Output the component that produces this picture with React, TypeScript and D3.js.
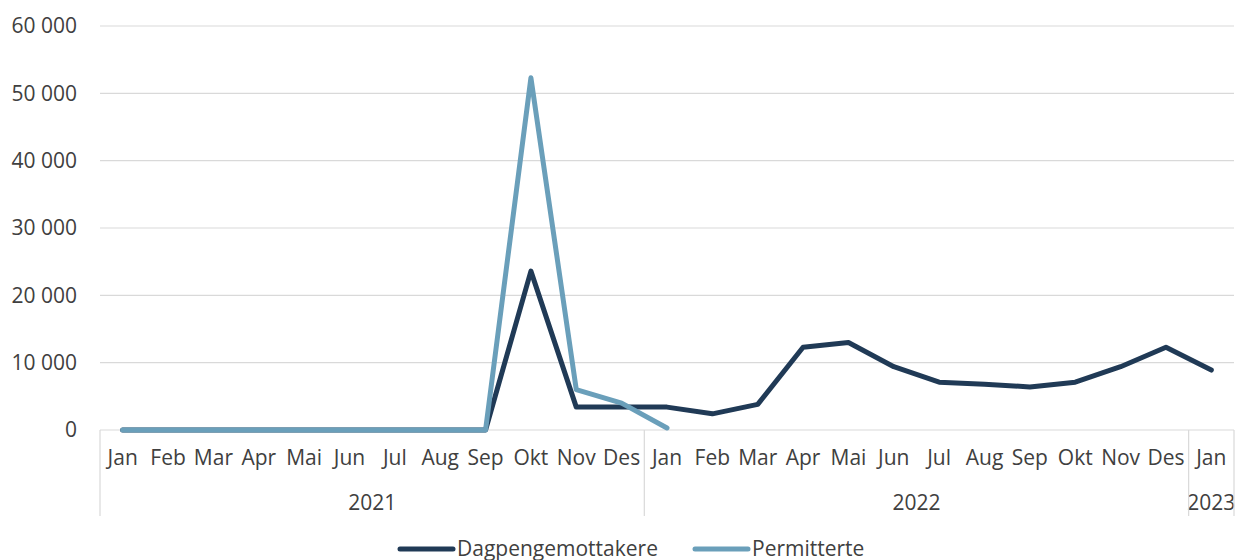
import * as d3 from "d3";
import { useEffect, useRef } from "react";

const months = [
  "Jan", "Feb", "Mar", "Apr", "Mai", "Jun", "Jul", "Aug", "Sep", "Okt", "Nov", "Des",
  "Jan", "Feb", "Mar", "Apr", "Mai", "Jun", "Jul", "Aug", "Sep", "Okt", "Nov", "Des",
  "Jan",
];
const years = [
  { label: "2021", count: 12 },
  { label: "2022", count: 12 },
  { label: "2023", count: 1 },
];
const dagpenge = [
  0, 0, 0, 0, 0, 0, 0, 0, 0, 23600, 3400, 3400,
  3400, 2400, 3800, 12300, 13000, 9400, 7100, 6800, 6400, 7100, 9400, 12300,
  8900,
];
const permitterte = [0, 0, 0, 0, 0, 0, 0, 0, 0, 52300, 6000, 4000, 300];
const yTicks = [0, 10000, 20000, 30000, 40000, 50000, 60000];

const series = [
  { name: "Dagpengemottakere", values: dagpenge, color: "#203a56" },
  { name: "Permitterte", values: permitterte, color: "#6a9fba" },
];

export default function App() {
  const ref = useRef<SVGSVGElement>(null);

  useEffect(() => {
    if (!ref.current) return;
    document.body.style.margin = "0";
    const el = ref.current;
    d3.select(el).selectAll("*").remove();

    const W = 1235;
    const H = 560;
    const left = 100;
    const right = 1234;
    const top = 26;
    const bottom = 430;
    const axisBottom = 516;
    const font = "'Open Sans', sans-serif";
    const fontSize = 21;
    const textColor = "#404040";
    const grid = "#d9d9d9";

    const svg = d3.select(el).attr("width", W).attr("height", H).attr("viewBox", `0 0 ${W} ${H}`);

    const x = d3.scaleBand<number>().domain(d3.range(months.length)).range([left, right]);
    const y = d3.scaleLinear().domain([0, 60000]).range([bottom, top]);

    // gridlines + y labels
    svg
      .append("g")
      .selectAll("line")
      .data(yTicks)
      .join("line")
      .attr("x1", left)
      .attr("x2", right)
      .attr("y1", d => y(d))
      .attr("y2", d => y(d))
      .attr("stroke", grid)
      .attr("stroke-width", 1.2);

    svg
      .append("g")
      .selectAll("text")
      .data(yTicks)
      .join("text")
      .attr("x", 77)
      .attr("y", d => y(d))
      .attr("dy", "0.35em")
      .attr("text-anchor", "end")
      .attr("font-family", font)
      .attr("font-size", fontSize)
      .attr("fill", textColor)
      .text(d => d3.format(",")(d).replace(/,/g, " "));

    // category axis: month labels
    svg
      .append("g")
      .selectAll("text")
      .data(months)
      .join("text")
      .attr("x", (_, i) => x(i)! + x.bandwidth() / 2)
      .attr("y", 465)
      .attr("text-anchor", "middle")
      .attr("font-family", font)
      .attr("font-size", fontSize)
      .attr("fill", textColor)
      .text(d => d);

    // year groups and separators
    let start = 0;
    const bounds: number[] = [0];
    years.forEach(yr => {
      const x0 = x(start)!;
      const x1 = start + yr.count < months.length ? x(start + yr.count)! : right;
      svg
        .append("text")
        .attr("x", (x0 + x1) / 2)
        .attr("y", 510)
        .attr("text-anchor", "middle")
        .attr("font-family", font)
        .attr("font-size", fontSize)
        .attr("fill", textColor)
        .text(yr.label);
      start += yr.count;
      bounds.push(start);
    });
    svg
      .append("g")
      .selectAll("line")
      .data(bounds)
      .join("line")
      .attr("x1", d => (d < months.length ? x(d)! : right))
      .attr("x2", d => (d < months.length ? x(d)! : right))
      .attr("y1", bottom)
      .attr("y2", axisBottom)
      .attr("stroke", grid)
      .attr("stroke-width", 1.2);

    // lines
    const line = d3
      .line<number>()
      .x((_, i) => x(i)! + x.bandwidth() / 2)
      .y(d => y(d));

    series.forEach(s => {
      svg
        .append("path")
        .attr("d", line(s.values))
        .attr("fill", "none")
        .attr("stroke", s.color)
        .attr("stroke-width", 5)
        .attr("stroke-linecap", "round")
        .attr("stroke-linejoin", "round");
    });

    // legend
    const legendX = [400, 695];
    series.forEach((s, i) => {
      const g = svg.append("g").attr("transform", `translate(${legendX[i]}, 549)`);
      g.append("line")
        .attr("x1", 0)
        .attr("x2", 53)
        .attr("y1", 0)
        .attr("y2", 0)
        .attr("stroke", s.color)
        .attr("stroke-width", 5)
        .attr("stroke-linecap", "round");
      g.append("text")
        .attr("x", 57)
        .attr("y", 0)
        .attr("dy", "0.35em")
        .attr("font-family", font)
        .attr("font-size", fontSize)
        .attr("fill", textColor)
        .text(s.name);
    });
  }, []);

  return <svg ref={ref} style={{ display: "block" }} />;
}
